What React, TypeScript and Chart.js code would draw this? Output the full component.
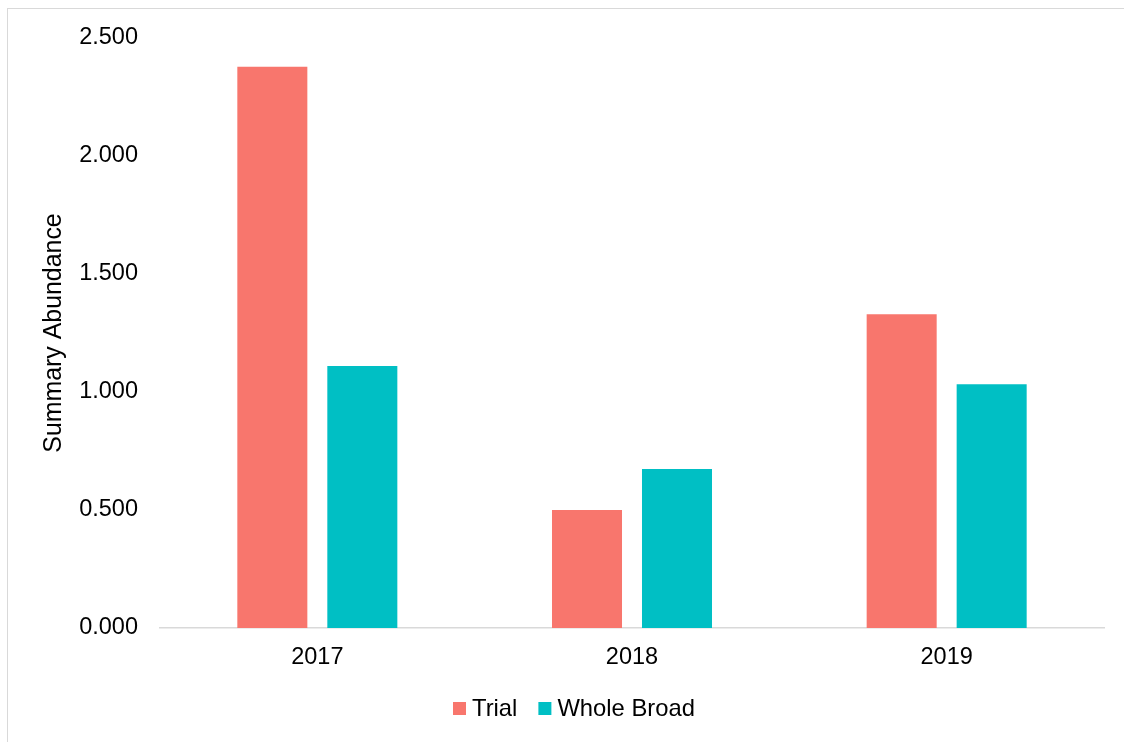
import React, { useEffect, useRef } from "react";
import { Chart, registerables } from "chart.js";

Chart.register(...registerables);

const categories = ["2017", "2018", "2019"];
const trialValues = [2.378, 0.5, 1.329];
const wholeBroadValues = [1.11, 0.674, 1.033];
const seriesLabels = ["Trial", "Whole Broad"];
const seriesColors = ["#F8766D", "#00BFC4"];
const yTicks = [0, 0.5, 1, 1.5, 2, 2.5];
const yTitle = "Summary Abundance";

const FONT = "'Liberation Sans', Arial, sans-serif";
const TICK_SIZE = 23.5;

const legendPlugin = {
  id: "customLegend",
  afterDraw(chart: any) {
    const ctx = chart.ctx;
    ctx.save();
    ctx.font = `${TICK_SIZE + 0.3}px ${FONT}`;
    ctx.textBaseline = "middle";
    ctx.textAlign = "left";
    const box = 13;
    const cy = 699.5;
    let x = 445;
    chart.data.datasets.forEach((ds: any) => {
      ctx.fillStyle = ds.backgroundColor;
      ctx.fillRect(x, cy - box / 2, box, box);
      const tx = x + box + 6;
      ctx.fillStyle = "#000000";
      ctx.fillText(ds.label, tx, cy + 1);
      x = tx + ctx.measureText(ds.label).width + 21;
    });
    ctx.restore();
  },
};

export default function App() {
  const ref = useRef<HTMLCanvasElement>(null);
  useEffect(() => {
    if (!ref.current) return;
    const chart = new Chart(ref.current, {
      type: "bar",
      data: {
        labels: categories,
        datasets: [
          { label: seriesLabels[0], data: trialValues, backgroundColor: seriesColors[0] },
          { label: seriesLabels[1], data: wholeBroadValues, backgroundColor: seriesColors[1] },
        ],
      },
      options: {
        responsive: false,
        animation: false,
        layout: { padding: { left: 0, right: 20, top: 29, bottom: 0 } },
        datasets: { bar: { categoryPercentage: 0.572, barPercentage: 0.778 } } as any,
        plugins: { legend: { display: false }, tooltip: { enabled: false } },
        scales: {
          x: {
            grid: { display: false, drawTicks: false },
            border: { display: true, color: "#d9d9d9", width: 1.5 },
            ticks: { color: "#000", font: { family: FONT, size: TICK_SIZE }, padding: 15 },
            afterFit: (s: any) => {
              s.height = 114;
              s.paddingLeft = 0;
              s.paddingRight = 0;
            },
          },
          y: {
            min: 0,
            max: 2.5,
            afterBuildTicks: (s: any) => { s.ticks = yTicks.map((v) => ({ value: v })); },
            grid: { display: false, drawTicks: false },
            border: { display: false },
            ticks: {
              color: "#000",
              font: { family: FONT, size: TICK_SIZE },
              padding: 22,
              callback: (v: any) => Number(v).toFixed(3),
            },
            title: {
              display: true,
              text: yTitle,
              color: "#000",
              font: { family: FONT, size: 24.9 },
              padding: { top: 31, bottom: 0 },
            },
            afterFit: (s: any) => {
              s.width = 152;
              s.paddingTop = 0;
              s.paddingBottom = 0;
            },
          },
        },
      },
      plugins: [legendPlugin],
    });
    return () => chart.destroy();
  }, []);
  return (
    <div
      style={{
        position: "fixed",
        left: 7,
        top: 8,
        right: 0,
        bottom: 0,
        borderLeft: "1px solid #d9d9d9",
        borderTop: "1px solid #d9d9d9",
        background: "#fff",
      }}
    >
      <canvas ref={ref} width={1116} height={733} style={{ display: "block", width: 1116, height: 733 }} />
    </div>
  );
}
